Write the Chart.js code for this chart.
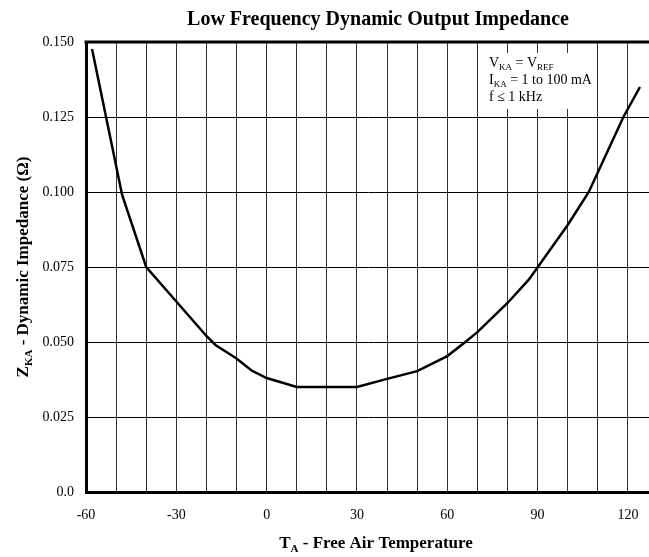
<!DOCTYPE html>
<html>
<head>
<meta charset="utf-8">
<script src="https://cdn.jsdelivr.net/npm/chart.js@4.4.0/dist/chart.umd.min.js"></script>
<style>
  html, body { margin: 0; padding: 0; background: #fff; }
  #wrap { width: 649px; height: 557px; }
</style>
</head>
<body>
<div id="wrap"><canvas id="chart" width="649" height="557"></canvas></div>
<script>
// values
var temps = [-58, -48, -40, -30, -20, -17, -10, -5, 0, 10, 20, 30, 40, 50, 60, 66, 70, 80, 87, 100, 107, 118.5, 124];
var impedance = [0.1477, 0.099, 0.075, 0.0635, 0.052, 0.049, 0.0445, 0.0405, 0.038, 0.035, 0.035, 0.035, 0.0377, 0.0403, 0.0453, 0.050, 0.0533, 0.063, 0.0707, 0.089, 0.100, 0.125, 0.135];
var xTicks = [-60, -50, -40, -30, -20, -10, 0, 10, 20, 30, 40, 50, 60, 70, 80, 90, 100, 110, 120];
var xLabelStep = 30;
var yTickStep = 0.025;

var serif = "'Liberation Serif', 'Times New Roman', serif";

// draws text with a subscript, returns width used
function subText(ctx, parts, x, y, size, bold) {
  var w = 0;
  parts.forEach(function(p) {
    var s = p.sub ? Math.round(size * 0.62) : size;
    ctx.font = (bold ? 'bold ' : '') + s + 'px ' + serif;
    ctx.fillText(p.t, x + w, y + (p.sub ? size * 0.3 : 0));
    w += ctx.measureText(p.t).width;
  });
  return w;
}
function measureParts(ctx, parts, size, bold) {
  var w = 0;
  parts.forEach(function(p) {
    var s = p.sub ? Math.round(size * 0.62) : size;
    ctx.font = (bold ? 'bold ' : '') + s + 'px ' + serif;
    w += ctx.measureText(p.t).width;
  });
  return w;
}

var notePlugin = {
  id: 'notes',
  beforeDatasetsDraw: function(chart) {
    var ctx = chart.ctx;
    ctx.save();
    // white box behind the conditions text
    ctx.fillStyle = '#fff';
    ctx.fillRect(481, 53, 110, 56);
    ctx.fillStyle = '#000';
    ctx.textBaseline = 'middle';
    ctx.textAlign = 'left';
    subText(ctx, [{t:'V'},{t:'KA',sub:true},{t:' = V'},{t:'REF',sub:true}], 489, 63, 14, false);
    subText(ctx, [{t:'I'},{t:'KA',sub:true},{t:' = 1 to 100 mA'}], 489, 80, 14, false);
    subText(ctx, [{t:'f \u2264 1 kHz'}], 489, 97, 14, false);
    ctx.restore();
  },
  afterDraw: function(chart) {
    var ctx = chart.ctx;
    var a = chart.chartArea;
    ctx.save();
    // top frame line
    ctx.strokeStyle = '#000';
    ctx.lineWidth = 3;
    ctx.beginPath();
    ctx.moveTo(a.left - 1.5, a.top);
    ctx.lineTo(a.right, a.top);
    ctx.stroke();

    ctx.fillStyle = '#000';
    ctx.textBaseline = 'middle';
    ctx.textAlign = 'center';
    ctx.font = 'bold 20px ' + serif;
    ctx.fillText('Low Frequency Dynamic Output Impedance', 378, 20);

    // x axis title
    ctx.textAlign = 'left';
    var xParts = [{t:'T'},{t:'A',sub:true},{t:' - Free Air Temperature'}];
    var xw = measureParts(ctx, xParts, 17, true);
    subText(ctx, xParts, 376 - xw / 2, 544, 17, true);

    // y axis title
    var yParts = [{t:'Z'},{t:'KA',sub:true},{t:' - Dynamic Impedance (\u03A9)'}];
    var yw = measureParts(ctx, yParts, 17, true);
    ctx.translate(24, (a.top + a.bottom) / 2);
    ctx.rotate(-Math.PI / 2);
    subText(ctx, yParts, -yw / 2, 0, 17, true);
    ctx.restore();
  }
};

var ctx = document.getElementById('chart').getContext('2d');
var myChart = new Chart(ctx, {
  type: 'line',
  data: {
    datasets: [{
      label: 'Zka',
      data: temps.map(function(t, i) { return {x: t, y: impedance[i]}; }),
      borderColor: '#000',
      borderWidth: 2.5,
      pointRadius: 0,
      tension: 0,
      fill: false
    }]
  },
  options: {
    responsive: false,
    animation: false,
    layout: { padding: { top: 42, right: 0, left: 0, bottom: 0 } },
    plugins: {
      legend: { display: false },
      tooltip: { enabled: false }
    },
    scales: {
      x: {
        type: 'linear',
        min: -60,
        max: 127,
        afterBuildTicks: function(s) {
          s.ticks = xTicks.map(function(v) { return {value: v}; });
        },
        afterFit: function(s) {
          s.height = 65;
          s.paddingLeft = 0;
          s.paddingRight = 0;
        },
        ticks: {
          padding: 15,
          color: '#000',
          font: { family: serif, size: 14 },
          maxRotation: 0,
          autoSkip: false,
          callback: function(v) {
            return (v % xLabelStep === 0) ? String(v) : '';
          }
        },
        grid: { drawTicks: false, lineWidth: 1, color: '#333' },
        border: { color: '#000', width: 3 }
      },
      y: {
        min: 0,
        max: 0.15,
        afterFit: function(s) { s.width = 86; },
        ticks: {
          stepSize: yTickStep,
          padding: 12,
          color: '#000',
          font: { family: serif, size: 14 },
          callback: function(v) {
            var r = Math.round(v * 1000) / 1000;
            return r === 0 ? '0.0' : r.toFixed(3);
          }
        },
        grid: { drawTicks: false, color: '#000', lineWidth: 1 },
        border: { color: '#000', width: 3 }
      }
    }
  },
  plugins: [notePlugin]
});
</script>
</body>
</html>
